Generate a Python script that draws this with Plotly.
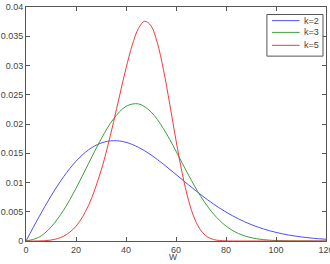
import plotly.graph_objects as go

x_k2 = [0, 5, 10, 15, 20, 25, 30, 35, 40, 45, 50, 55, 60, 65, 70, 75, 80, 85, 90, 95, 100, 105, 110, 115, 120]
y_k2 = [0, 0.00396, 0.00769, 0.01097, 0.01363, 0.01558, 0.01674, 0.01715, 0.01687, 0.01601, 0.01472,
        0.01312, 0.01137, 0.00960, 0.00789, 0.00632, 0.00495, 0.00378, 0.00282, 0.00206, 0.00147,
        0.00102, 0.00070, 0.00046, 0.00030]

x_k3 = [0, 5, 10, 15, 20, 25, 30, 35, 40, 45, 50, 55, 60, 65, 70, 75, 80, 85, 90, 95, 100, 105, 110, 115, 120]
y_k3 = [0, 0.00060, 0.00238, 0.00526, 0.00900, 0.01324, 0.01740, 0.02086, 0.02301, 0.02344, 0.02207,
        0.01918, 0.01535, 0.01127, 0.00756, 0.00462, 0.00256, 0.00127, 0.00057, 0.00023, 0.00008,
        0.00002, 0.00001, 0, 0]

x_k5 = [0, 5, 10, 15, 20, 25, 30, 32.5, 35, 37.5, 40, 42.5, 45, 47.5, 50, 52.5, 55, 57.5, 60, 62.5,
        65, 67.5, 70, 72.5, 75, 80, 85, 90, 100, 110, 120]
y_k5 = [0, 0.00001, 0.00016, 0.00081, 0.00253, 0.00606, 0.01199, 0.01590, 0.02030, 0.02496, 0.02952,
        0.03349, 0.03635, 0.03757, 0.03679, 0.03392, 0.02925, 0.02340, 0.01722, 0.01154, 0.00697,
        0.00375, 0.00177, 0.00073, 0.00025, 0.00002, 0, 0, 0, 0, 0]

names = ["k=2", "k=3", "k=5"]
colors = ["rgb(80,80,240)", "rgb(60,160,60)", "rgb(240,60,60)"]

x_ticks = [0, 20, 40, 60, 80, 100, 120]
y_ticks = [0, 0.005, 0.01, 0.015, 0.02, 0.025, 0.03, 0.035, 0.04]
y_tick_labels = ["0", "0.005", "0.01", "0.015", "0.02", "0.025", "0.03", "0.035", "0.04"]

FONT = "Liberation Sans, Arial"
TXT = "#444"

fig = go.Figure()
for xs, ys, nm, c in zip([x_k2, x_k3, x_k5], [y_k2, y_k3, y_k5], names, colors):
    fig.add_trace(go.Scatter(x=xs, y=ys, name=nm, mode="lines", showlegend=False,
                             line=dict(color=c, width=1, shape="spline", smoothing=1)))

axis_common = dict(showline=True, linecolor="#555", linewidth=1, mirror="ticks",
                   ticks="inside", ticklen=4, tickcolor="#555", showgrid=False, zeroline=False,
                   automargin=False, ticklabeloverflow="allow",
                   tickfont=dict(family=FONT, size=9, color=TXT))

fig.update_xaxes(range=[0, 120], tickvals=x_ticks, ticktext=[str(v) for v in x_ticks],
                 ticklabelstandoff=0, **axis_common)
fig.update_yaxes(range=[0, 0.04], tickvals=y_ticks, ticktext=y_tick_labels,
                 ticklabelstandoff=0, **axis_common)

# x-axis title (just below the tick labels)
fig.add_annotation(text="W", xref="paper", yref="paper", x=0.49, y=-0.098,
                   xanchor="center", yanchor="bottom", showarrow=False,
                   font=dict(family=FONT, size=8.5, color=TXT))

# legend drawn in the MATLAB style (box at upper right)
lx0, lx1, ly0, ly1 = 0.803, 0.99, 0.79, 0.968
fig.add_shape(type="rect", xref="paper", yref="paper", x0=lx0, x1=lx1, y0=ly0, y1=ly1,
              line=dict(color="#555", width=1), fillcolor="white", layer="above")
row_y = [0.9417, 0.8915, 0.8362]
for nm, c, ry in zip(names, colors, row_y):
    fig.add_shape(type="line", xref="paper", yref="paper", x0=0.82, x1=0.912, y0=ry, y1=ry,
                  line=dict(color=c, width=1), layer="above")
    fig.add_annotation(text=nm, xref="paper", yref="paper", x=0.92, y=ry,
                       xanchor="left", yanchor="middle", showarrow=False,
                       font=dict(family=FONT, size=9, color=TXT))

fig.update_layout(
    width=330, height=264,
    margin=dict(l=26, r=4, t=7, b=23),
    paper_bgcolor="white", plot_bgcolor="white",
    showlegend=False,
)

fig.write_html("out.html")
